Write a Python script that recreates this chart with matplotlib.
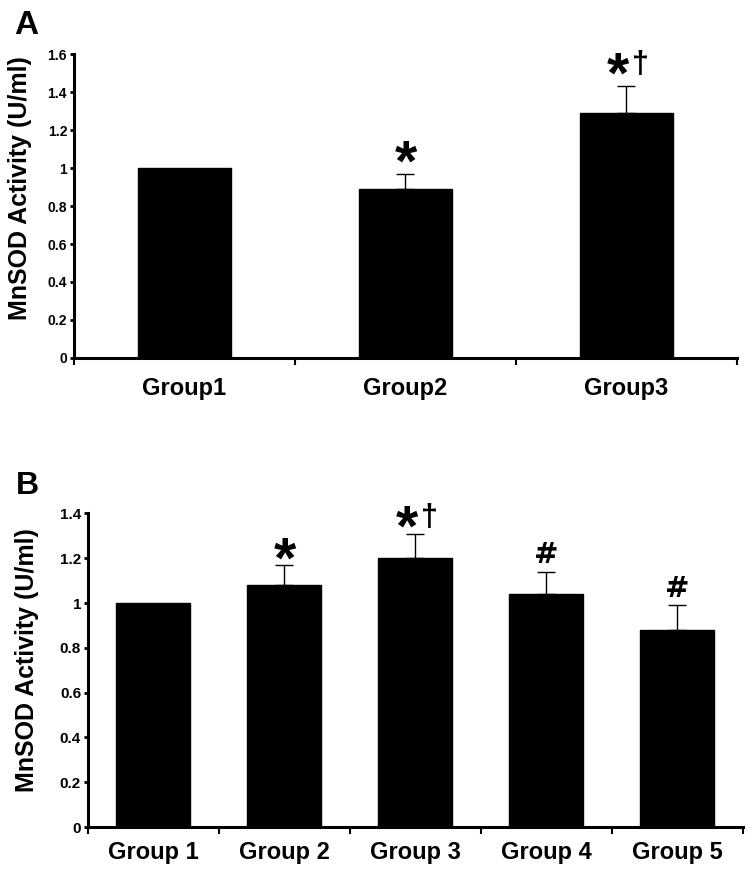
import numpy as np
import matplotlib
matplotlib.use("Agg")
import matplotlib.pyplot as plt

plt.rcParams['font.family'] = ['Liberation Sans', 'DejaVu Sans']

# ---- data ----
groups_a = ["Group1", "Group2", "Group3"]
values_a = [1.00, 0.89, 1.29]
errors_a = [0.00, 0.08, 0.14]
stars_a = ["", "*", "*"]
daggers_a = ["", "", "†"]
yticks_a = [0, 0.2, 0.4, 0.6, 0.8, 1, 1.2, 1.4, 1.6]
yticklabels_a = ["0", "0.2", "0.4", "0.6", "0.8", "1", "1.2", "1.4", "1.6"]

groups_b = ["Group 1", "Group 2", "Group 3", "Group 4", "Group 5"]
values_b = [1.00, 1.08, 1.20, 1.04, 0.88]
errors_b = [0.00, 0.09, 0.11, 0.10, 0.11]
stars_b = ["", "*", "*", "#", "#"]
daggers_b = ["", "", "†", "", ""]
yticks_b = [0, 0.2, 0.4, 0.6, 0.8, 1, 1.2, 1.4]
yticklabels_b = ["0", "0.2", "0.4", "0.6", "0.8", "1", "1.2", "1.4"]

ylabel = "MnSOD Activity (U/ml)"

fig = plt.figure(figsize=(7.48, 8.77), dpi=100)


def panel(rect, groups, values, errors, stars, daggers, yticks, yticklabels,
          ymax, barw, tickfont, ticksize, star_off, hash_off, xpad):
    ax = fig.add_axes(rect)
    x = np.arange(len(groups))
    ax.bar(x, values, width=barw, color='black', edgecolor='black', zorder=2)
    err = np.array(errors)
    m = err > 0
    ax.errorbar(x[m], np.array(values)[m], yerr=[np.zeros(m.sum()), err[m]],
                fmt='none', ecolor='black', elinewidth=1.0, capsize=6.5,
                capthick=1.0, zorder=1)
    ax.set_xlim(-0.5, len(groups) - 0.5)
    ax.set_ylim(0, ymax)
    for s in ['top', 'right']:
        ax.spines[s].set_visible(False)
    for s in ['left', 'bottom']:
        ax.spines[s].set_linewidth(2.2)
    ax.set_yticks(yticks)
    ax.set_yticklabels(yticklabels, fontfamily=tickfont, fontweight='bold',
                       fontsize=ticksize)
    ax.tick_params(axis='y', direction='out', length=3, width=2, pad=2)
    ax.set_xticks(x)
    ax.set_xticklabels(groups, fontsize=17, fontweight='bold')
    ax.tick_params(axis='x', which='major', length=0, pad=xpad)
    ax.set_xticks(np.arange(len(groups) + 1) - 0.5, minor=True)
    ax.tick_params(axis='x', which='minor', direction='out', length=5, width=1.5)
    for i in range(len(groups)):
        top = values[i] + errors[i]
        if stars[i] == '*':
            dx = -6 if daggers[i] else 0
            ax.annotate('*', (x[i], top), xytext=(dx, star_off),
                        textcoords='offset points', ha='center', va='center',
                        fontsize=41, fontweight='bold')
            if daggers[i]:
                ax.annotate(daggers[i], (x[i], top), xytext=(10, star_off + 9),
                            textcoords='offset points', ha='center',
                            va='center', fontsize=22, fontweight='bold')
        elif stars[i]:
            ax.annotate(stars[i], (x[i], top), xytext=(0, hash_off),
                        textcoords='offset points', ha='center', va='center',
                        fontsize=21, fontweight='bold',
                        fontfamily=['DejaVu Sans'])
    return ax


axA = panel([0.0989, 0.5918, 0.8864, 0.3466], groups_a, values_a, errors_a,
            stars_a, daggers_a, yticks_a, yticklabels_a, 1.6, 0.42,
            ['Liberation Sans Narrow', 'Liberation Sans'], 10, 6, 12, 14)
axB = panel([0.1176, 0.0570, 0.8757, 0.3575], groups_b, values_b, errors_b,
            stars_b, daggers_b, yticks_b, yticklabels_b, 1.4, 0.565,
            ['Liberation Sans', 'DejaVu Sans'], 11, 2, 12, 10)

fig.text(20 / 748, 1 - 188 / 877, ylabel, rotation=90, ha='center', va='center',
         fontsize=18, fontweight='bold')
fig.text(27 / 748, 1 - 660 / 877, ylabel, rotation=90, ha='center', va='center',
         fontsize=18, fontweight='bold')
fig.text(26 / 748, 1 - 26 / 877, "A", ha='center', va='center',
         fontsize=24, fontweight='bold')
fig.text(27 / 748, 1 - 486 / 877, "B", ha='center', va='center',
         fontsize=23, fontweight='bold')

fig.savefig("out.png", dpi=100)
